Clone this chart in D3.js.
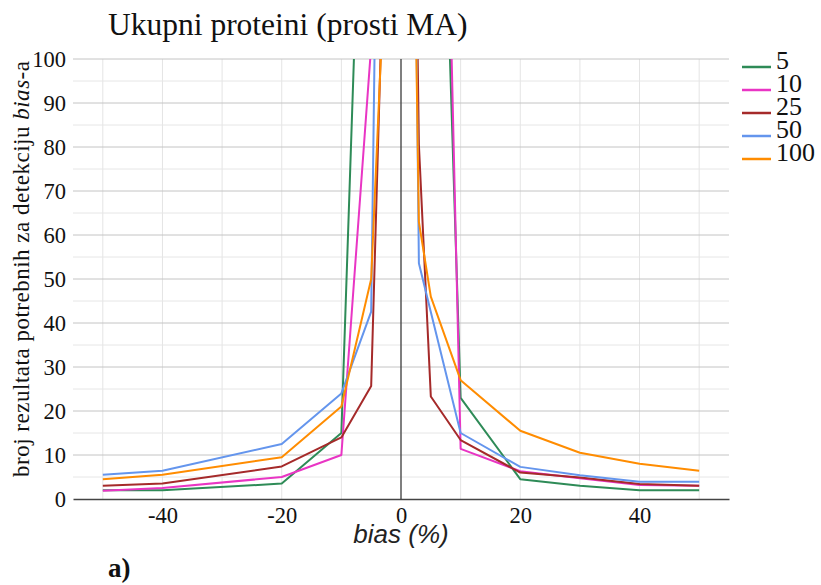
<!DOCTYPE html>
<html>
<head>
<meta charset="utf-8">
<script src="https://cdn.jsdelivr.net/npm/d3@7"></script>
<style>
  body { margin: 0; background: #fff; }
  svg { display: block; }
</style>
</head>
<body>
<div id="chart"></div>
<script>
// bias (%) na x osi
const bias = [-50, -40, -20, -10, -5, -3, -2, 2, 3, 5, 10, 20, 30, 40, 50];

// broj rezultata po seriji (vrijednosti > 100 su odrezane na grafu)
const s5   = [2.0, 2.0, 3.5, 15, 217, 600, 900, 700, 500, 238, 23, 4.5, 3.0, 2.0, 2.0];
const s10  = [1.9, 2.5, 5.0, 10, 103, 300, 600, 800, 500, 306, 11.4, 6.3, 4.7, 3.2, 3.0];
const s25  = [3.0, 3.5, 7.4, 14, 25.7, 121, 300, 178, 80.5, 23.3, 13.4, 6.0, 4.9, 3.4, 3.0];
const s50  = [5.5, 6.4, 12.5, 24, 42.6, 250, 400, 180, 53.6, 42.5, 15, 7.3, 5.4, 3.9, 3.9];
const s100 = [4.5, 5.5, 9.5, 21, 50, 112, 200, 152, 63, 46, 27, 15.5, 10.5, 8.0, 6.4];

const seriesNames = ['5', '10', '25', '50', '100'];
const seriesValues = [s5, s10, s25, s50, s100];
const colors = ['#2e8b57', '#e935c4', '#a52a2a', '#6495ed', '#ff8c00'];

const xTicks = [-40, -20, 0, 20, 40];
const yTicks = [0, 10, 20, 30, 40, 50, 60, 70, 80, 90, 100];

const SERIF = '"Liberation Serif", "Times New Roman", serif';
const W = 821, H = 585;
const svg = d3.select('#chart').append('svg')
    .attr('width', W)
    .attr('height', H);

const x = d3.scaleLinear().domain([-55, 55]).range([73, 729]);
const y = d3.scaleLinear().domain([0, 100]).range([499, 59]);

// mreza
const grid = svg.append('g');
grid.selectAll('line.v')
    .data(d3.range(-50, 51, 10))
    .enter().append('line')
    .attr('x1', d => x(d)).attr('x2', d => x(d))
    .attr('y1', y(0)).attr('y2', y(100))
    .attr('stroke', '#e4e4e4').attr('stroke-width', 1);
grid.selectAll('line.h')
    .data(d3.range(5, 101, 5))
    .enter().append('line')
    .attr('x1', x(-55)).attr('x2', x(55))
    .attr('y1', d => y(d)).attr('y2', d => y(d))
    .attr('stroke', d => d % 10 === 0 ? '#c4c4c4' : '#e6e6e6')
    .attr('stroke-width', 1);

// osi
const yAxis = svg.append('g')
    .attr('transform', `translate(${x(-55) - 7},0)`)
    .call(d3.axisLeft(y).tickValues(yTicks).tickSize(0).tickPadding(0));
yAxis.select('.domain').remove();
yAxis.selectAll('text')
    .style('font-family', SERIF)
    .style('font-size', '22.5px')
    .attr('fill', '#111').attr('dy', '0.34em');

const xAxis = svg.append('g')
    .attr('transform', `translate(0,${y(0)})`)
    .call(d3.axisBottom(x).tickValues(xTicks).tickFormat(d => String(d)).tickSize(0));
xAxis.select('.domain').attr('stroke', '#444').attr('stroke-width', 1.3);
xAxis.selectAll('text')
    .style('font-family', SERIF)
    .style('font-size', '22.5px')
    .attr('fill', '#111').attr('y', 24).attr('dy', 0);

// nulta linija
svg.append('line')
    .attr('x1', x(0)).attr('x2', x(0))
    .attr('y1', y(0)).attr('y2', y(100))
    .attr('stroke', '#333').attr('stroke-width', 1.2);

// linije serija
svg.append('clipPath').attr('id', 'plot-clip')
    .append('rect')
    .attr('x', x(-55)).attr('y', y(100))
    .attr('width', x(55) - x(-55)).attr('height', y(0) - y(100));

const line = d3.line()
    .x(d => x(d[0]))
    .y(d => y(d[1]));

const plot = svg.append('g').attr('clip-path', 'url(#plot-clip)');
seriesValues.forEach((vals, i) => {
    plot.append('path')
        .datum(bias.map((b, j) => [b, vals[j]]))
        .attr('d', line)
        .attr('fill', 'none')
        .attr('stroke', colors[i])
        .attr('stroke-width', 2)
        .attr('stroke-linejoin', 'round');
});

// naslov
svg.append('text')
    .attr('x', 108).attr('y', 35)
    .style('font-family', SERIF)
    .attr('font-size', 31.5)
    .attr('fill', '#111')
    .text('Ukupni proteini (prosti MA)');

// naslov y osi
const yTitle = svg.append('text')
    .attr('transform', 'translate(29,269) rotate(-90)')
    .attr('text-anchor', 'middle')
    .style('font-family', SERIF)
    .attr('font-size', 23)
    .attr('textLength', 416)
    .attr('lengthAdjust', 'spacing')
    .attr('fill', '#111');
yTitle.append('tspan').text('broj rezultata potrebnih za detekciju ');
yTitle.append('tspan').attr('font-style', 'italic').text('bias');
yTitle.append('tspan').text('-a');

// naslov x osi
svg.append('text')
    .attr('x', x(0)).attr('y', 543)
    .attr('text-anchor', 'middle')
    .style('font-family', '"Liberation Sans", Arial, sans-serif')
    .attr('font-style', 'italic')
    .attr('font-size', 26)
    .attr('fill', '#222')
    .text('bias (%)');

svg.append('text')
    .attr('x', 108).attr('y', 577)
    .style('font-family', SERIF)
    .attr('font-size', 27)
    .attr('font-weight', 'bold')
    .attr('fill', '#111')
    .text('a)');

// legenda
const legend = svg.append('g');
seriesNames.forEach((name, i) => {
    const ly = 67 + i * 23;
    legend.append('line')
        .attr('x1', 742).attr('x2', 771)
        .attr('y1', ly).attr('y2', ly)
        .attr('stroke', colors[i]).attr('stroke-width', 2.5);
    legend.append('text')
        .attr('x', 776).attr('y', ly + 2)
        .style('font-family', SERIF)
        .attr('font-size', 26)
        .attr('fill', '#111')
        .text(name);
});
</script>
</body>
</html>
